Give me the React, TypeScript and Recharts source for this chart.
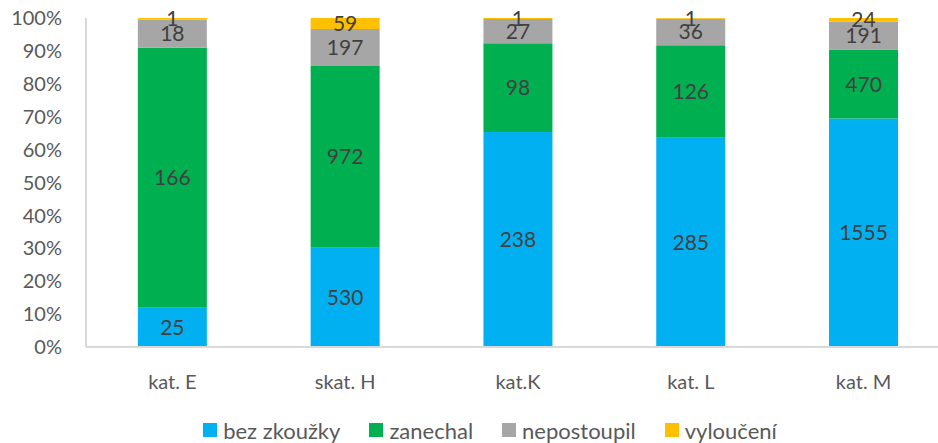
import { BarChart, Bar, XAxis, YAxis, Legend, LabelList } from 'recharts';

const categories = ['kat. E', 'skat. H', 'kat.K', 'kat. L', 'kat. M'];
const bezZkousky = [25, 530, 238, 285, 1555];
const zanechal = [166, 972, 98, 126, 470];
const nepostoupil = [18, 197, 27, 36, 191];
const vylouceni = [1, 59, 1, 1, 24];
const yTicks = [0, 0.1, 0.2, 0.3, 0.4, 0.5, 0.6, 0.7, 0.8, 0.9, 1];

const series = [
    { key: 'bez', name: 'bez zkoužky', color: '#00B0F0', values: bezZkousky },
    { key: 'zan', name: 'zanechal', color: '#00B050', values: zanechal },
    { key: 'nep', name: 'nepostoupil', color: '#A6A6A6', values: nepostoupil },
    { key: 'vyl', name: 'vyloučení', color: '#FFC000', values: vylouceni },
];

const data = categories.map((cat, i) => {
    const row: Record<string, string | number> = { cat };
    series.forEach((s) => { row[s.key] = s.values[i]; });
    return row;
});

const FONT = 'Lato, "Open Sans", sans-serif';

function MyLegend() {
    return (
        <div style={{ display: 'flex', justifyContent: 'center', paddingLeft: 30, height: 26, alignItems: 'center', fontFamily: FONT, fontSize: 22, color: '#595959' }}>
            {series.map((s, i) => (
                <div key={s.key} style={{ display: 'flex', alignItems: 'center', marginLeft: i === 0 ? 0 : 29 }}>
                    <span style={{ width: 14, height: 14, background: s.color, display: 'inline-block', marginRight: 6 }} />
                    <span>{s.name}</span>
                </div>
            ))}
        </div>
    );
}

export default function App() {
    return (
        <div style={{ position: 'absolute', left: 0, top: 0, width: 938, height: 443, overflow: 'hidden', background: '#fff' }}>
            <BarChart
                width={950}
                height={443}
                data={data}
                stackOffset="expand"
                barCategoryGap="30%"
                margin={{ top: 18, right: 0, left: 0, bottom: 0 }}
            >
                <XAxis
                    dataKey="cat"
                    axisLine={{ stroke: '#D9D9D9', strokeWidth: 2 }}
                    tickLine={false}
                    tickMargin={22}
                    height={70}
                    tick={{ fill: '#595959', fontSize: 20, fontFamily: FONT }}
                />
                <YAxis
                    domain={[0, 1]}
                    ticks={yTicks}
                    interval={0}
                    width={86}
                    axisLine={{ stroke: '#D9D9D9', strokeWidth: 2 }}
                    tickLine={false}
                    tickMargin={18}
                    tickFormatter={(v: number) => `${Math.round(v * 100)}%`}
                    tick={{ fill: '#595959', fontSize: 20, fontFamily: FONT }}
                />
                <Legend verticalAlign="bottom" height={26} content={() => <MyLegend />} />
                {series.map((s) => (
                    <Bar key={s.key} dataKey={s.key} name={s.name} stackId="a" fill={s.color} isAnimationActive={false}>
                        <LabelList dataKey={s.key} position="center" fill="#404040" fontSize={21} fontFamily={FONT} />
                    </Bar>
                ))}
            </BarChart>
        </div>
    );
}
